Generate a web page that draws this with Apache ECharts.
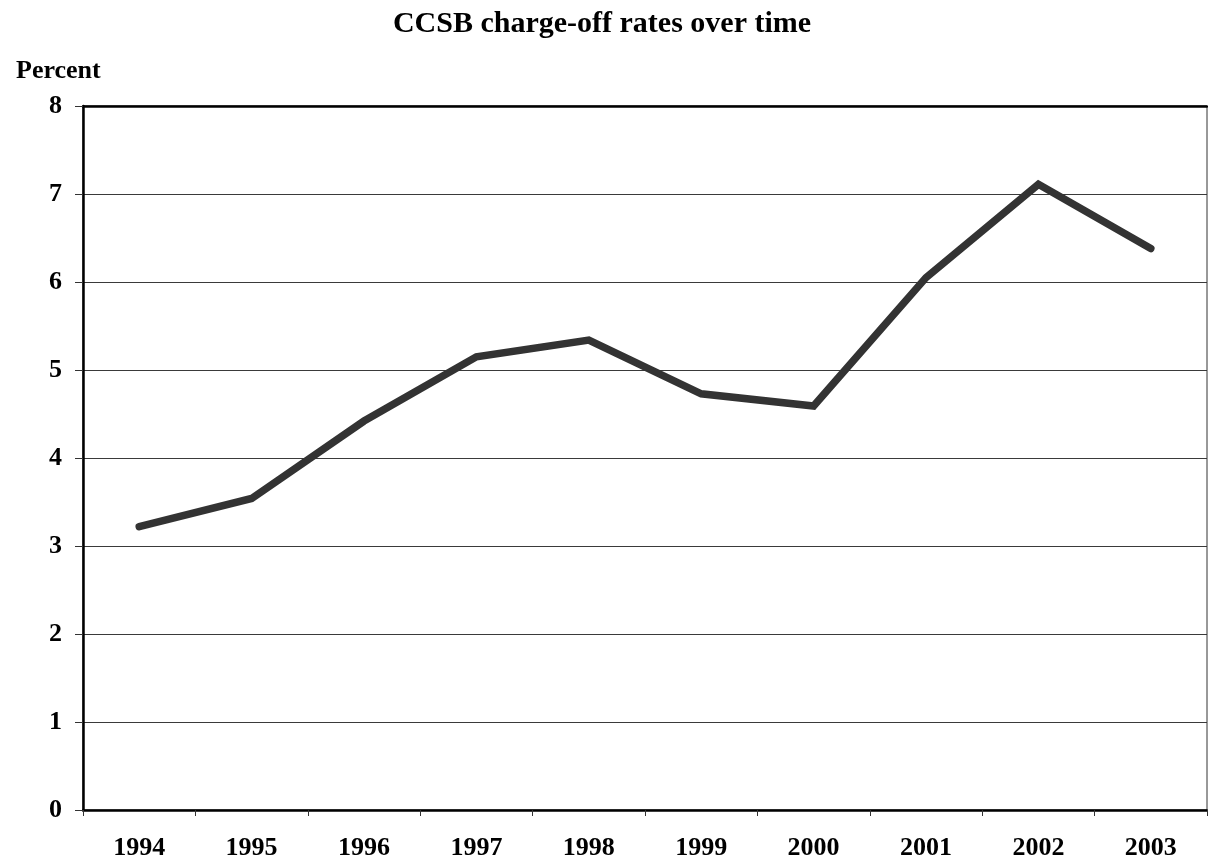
<!DOCTYPE html>
<html>
<head>
<meta charset="utf-8">
<script src="https://cdn.jsdelivr.net/npm/echarts@6/dist/echarts.min.js"></script>
<style>
  html, body { margin: 0; padding: 0; background: #fff; }
  #chart { width: 1208px; height: 867px; }
</style>
</head>
<body>
<div id="chart"></div>
<script>
// Annual charge-off rates, percent
const years = ['1994', '1995', '1996', '1997', '1998', '1999', '2000', '2001', '2002', '2003'];
const chargeOffRates = [3.22, 3.54, 4.42, 5.15, 5.34, 4.73, 4.59, 6.05, 7.11, 6.38];
const yTicks = { min: 0, max: 8, interval: 1 };

const font = '"Liberation Serif", "Times New Roman", serif';
const chart = echarts.init(document.getElementById('chart'), null, { renderer: 'canvas' });

chart.setOption({
  animation: false,
  backgroundColor: '#ffffff',
  title: [
    {
      text: 'CCSB charge-off rates over time',
      left: 597,
      textAlign: 'center',
      top: 4,
      textStyle: { fontFamily: font, fontWeight: 'bold', fontSize: 30, color: '#000' }
    },
    {
      text: 'Percent',
      left: 11,
      top: 53,
      textStyle: { fontFamily: font, fontWeight: 'bold', fontSize: 26, color: '#000' }
    }
  ],
  grid: {
    left: 83, right: 1, top: 106, bottom: 57,
    show: true, borderColor: '#333', borderWidth: 1
  },
  xAxis: [
    {
      type: 'category',
      data: years,
      boundaryGap: true,
      axisLine: { lineStyle: { color: '#000', width: 2.5 } },
      axisTick: { show: true, alignWithLabel: false, length: 6, lineStyle: { color: '#333', width: 1 } },
      axisLabel: { margin: 25, fontFamily: font, fontWeight: 'bold', fontSize: 26, color: '#000' },
      splitLine: { show: false }
    },
    {
      type: 'category',
      data: years,
      position: 'top',
      axisLine: { lineStyle: { color: '#000', width: 2.5 } },
      axisTick: { show: false },
      axisLabel: { show: false },
      splitLine: { show: false }
    }
  ],
  yAxis: {
    type: 'value',
    min: yTicks.min,
    max: yTicks.max,
    interval: yTicks.interval,
    axisLine: { show: true, lineStyle: { color: '#000', width: 2.5 } },
    axisTick: { show: true, inside: false, length: 8, lineStyle: { color: '#333', width: 1 } },
    axisLabel: { margin: 21, fontFamily: font, fontWeight: 'bold', fontSize: 26, color: '#000' },
    splitLine: { show: true, lineStyle: { color: '#3a3a3a', width: 1 } }
  },
  series: [
    {
      type: 'line',
      data: chargeOffRates,
      xAxisIndex: 0,
      showSymbol: false,
      symbol: 'none',
      lineStyle: { color: '#333333', width: 7.5, cap: 'round', join: 'miter' },
      z: 5
    }
  ]
});
</script>
</body>
</html>
